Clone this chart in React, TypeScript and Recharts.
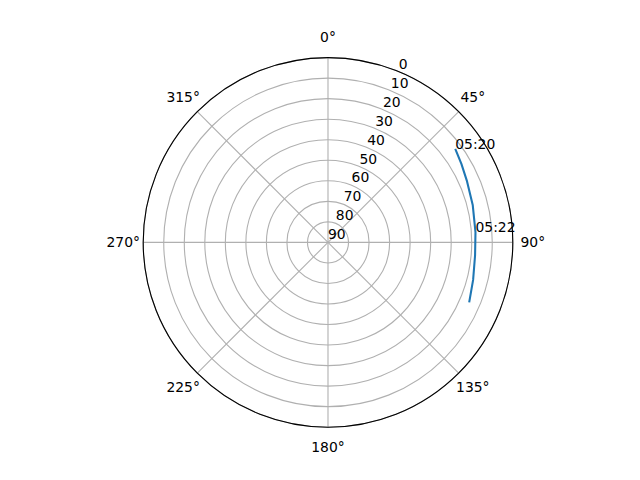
import { PolarAngleAxis, PolarGrid, PolarRadiusAxis, Radar, RadarChart } from "recharts";

// pass track, one sample every 30 s
const times = ["05:20", "05:20:30", "05:21", "05:21:30", "05:22", "05:22:30", "05:23", "05:23:30"];
const azimuths = [53.7, 59.5, 66.0, 75.5, 86.0, 95.0, 104.5, 113.0];
const elevations = [13.1, 14.6, 16.0, 17.2, 18.0, 18.1, 17.0, 15.3];
const labeledTimes = ["05:20", "05:22"];

const angleTicks = [0, 45, 90, 135, 180, 225, 270, 315];
const elevationTicks = [0, 10, 20, 30, 40, 50, 60, 70, 80, 90];

const track = times.map((time, i) => ({ time, az: azimuths[i], elev: elevations[i] }));

const FONT = "'DejaVu Sans', sans-serif";
const FONT_SIZE = 13.9;
const LINE = "#1f77b4";

type TrackPoint = { x: number; y: number; payload: { time: string } };

function TrackShape(props: any) {
  const points = (props.points ?? []) as TrackPoint[];
  if (!points.length) return null;
  const d = points.map((p, i) => `${i === 0 ? "M" : "L"}${p.x},${p.y}`).join(" ");
  return (
    <g>
      <path d={d} fill="none" stroke={LINE} strokeWidth={2.08} strokeLinejoin="round" />
      {points
        .filter((p) => labeledTimes.includes(p.payload.time))
        .map((p) => (
          <text key={p.payload.time} x={p.x} y={p.y} fontFamily={FONT} fontSize={FONT_SIZE} fill="#000">
            {p.payload.time}
          </text>
        ))}
    </g>
  );
}

function AngleTick(props: any) {
  const { x, y, payload } = props;
  return (
    <text x={x} y={y} dy="0.35em" textAnchor="middle" fontFamily={FONT} fontSize={FONT_SIZE} fill="#000">
      {`${payload.value}°`}
    </text>
  );
}

function RadiusTick(props: any) {
  const { x, y, payload } = props;
  return (
    <text x={x} y={y - 3} textAnchor="start" fontFamily={FONT} fontSize={FONT_SIZE} fill="#000">
      {payload.value}
    </text>
  );
}

export default function App() {
  return (
    <div style={{ position: "fixed", left: 0, top: 0, width: 640, height: 480, background: "#fff" }}>
      <RadarChart
        width={640}
        height={480}
        data={track}
        cx={328}
        cy={242.4}
        innerRadius={0}
        outerRadius={184.8}
        startAngle={90}
        endAngle={-270}
        margin={{ top: 0, right: 0, bottom: 0, left: 0 }}
      >
        <PolarGrid gridType="circle" stroke="#b0b0b0" strokeWidth={1.1} />
        <PolarAngleAxis
          dataKey="az"
          type="number"
          domain={[0, 360]}
          ticks={angleTicks}
          tickLine={false}
          tickSize={20}
          axisLineType="circle"
          axisLine={{ stroke: "#000", strokeWidth: 1.1 }}
          tick={<AngleTick />}
        />
        <PolarRadiusAxis
          type="number"
          domain={[0, 90]}
          reversed
          ticks={elevationTicks}
          tickCount={10}
          angle={67.5}
          axisLine={false}
          tickLine={false}
          tick={<RadiusTick />}
        />
        <Radar dataKey="elev" isAnimationActive={false} dot={false} fill="none" shape={TrackShape} />
      </RadarChart>
    </div>
  );
}
